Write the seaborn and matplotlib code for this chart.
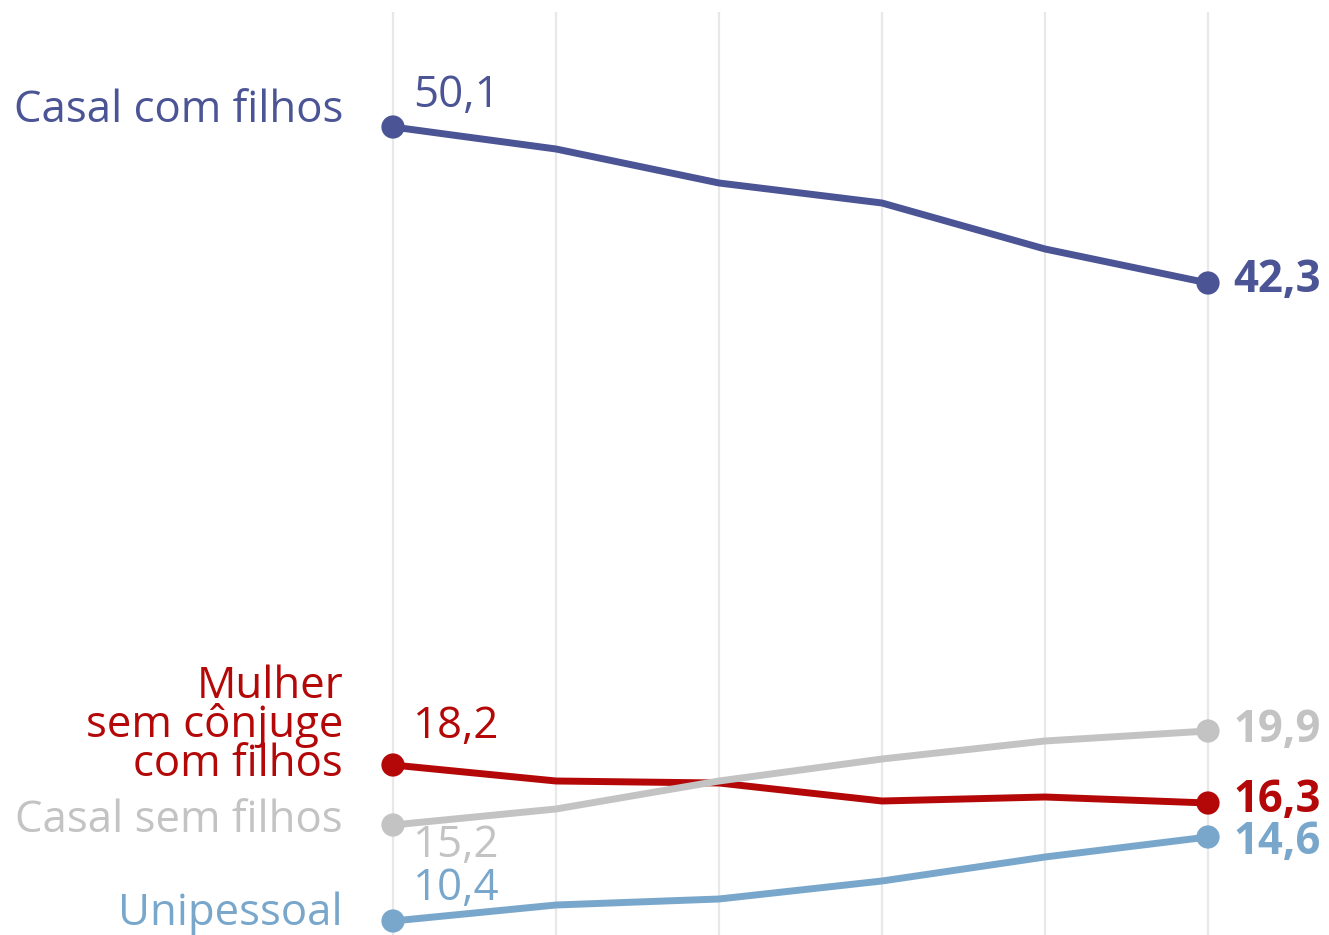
import matplotlib
matplotlib.use("Agg")
import matplotlib.pyplot as plt
import seaborn as sns
import pandas as pd

# ---- data ----
periodos = [0, 1, 2, 3, 4, 5]
casal_com_filhos = [50.1, 49.0, 47.3, 46.3, 44.0, 42.3]
mulher_sem_conjuge = [18.2, 17.4, 17.3, 16.4, 16.6, 16.3]
casal_sem_filhos = [15.2, 16.0, 17.4, 18.5, 19.4, 19.9]
unipessoal = [10.4, 11.2, 11.5, 12.4, 13.6, 14.6]

series_names = ["Casal com filhos", "Mulher\nsem cônjuge\ncom filhos",
                "Casal sem filhos", "Unipessoal"]
series_values = [casal_com_filhos, mulher_sem_conjuge, casal_sem_filhos, unipessoal]
colors = ["#4b5495", "#b40808", "#c3c3c3", "#79a7cb"]

rows = []
for name, vals in zip(series_names, series_values):
    for p, v in zip(periodos, vals):
        rows.append({"periodo": p, "valor": v, "serie": name})
df = pd.DataFrame(rows)

sns.set_style("white")
plt.rcParams["font.family"] = ["Open Sans", "DejaVu Sans"]

W, H = 1329, 935
fig = plt.figure(figsize=(W / 100, H / 100), dpi=100)
ax = fig.add_axes([0, 0, 1, (H - 12) / H])

# pixel mapping: x index 0 -> 393 px, 163 px per step; y: 50.1 at 127 px, 20 px per unit
x0, dx = 393, 163
ax.set_xlim(-x0 / dx, (W - x0) / dx)
ax.set_ylim(50.1 - (H - 127) / 20, 50.1 + (127 - 12) / 20)

for p in periodos:
    ax.axvline(p, color="#e8e8e8", lw=1.6, zorder=0)

sns.lineplot(data=df, x="periodo", y="valor", hue="serie", hue_order=series_names,
             palette=colors, linewidth=5, legend=False, ax=ax, zorder=3)

ends = df[df["periodo"].isin([periodos[0], periodos[-1]])]
sns.scatterplot(data=ends, x="periodo", y="valor", hue="serie", hue_order=series_names,
                palette=colors, s=280, linewidth=0, legend=False, ax=ax, zorder=4,
                clip_on=False)

fs = 31.5
def fmt(v):
    return f"{v:.1f}".replace(".", ",")

# left labels (right aligned at x=343 px)
lx = (343 - x0) / dx
left_y = [111, 726, 821, 914]  # pixel centers
for name, c, py in zip(series_names, colors, left_y):
    ax.text(lx, 50.1 - (py - 127) / 20, name, color=c, fontsize=fs, ha="right",
            va="center", linespacing=0.83)

# start values
sx = (413 - x0) / dx
start_y = [96, 727, 846, 889]
for vals, c, py in zip(series_values, colors, start_y):
    ax.text(sx, 50.1 - (py - 127) / 20, fmt(vals[0]), color=c, fontsize=fs,
            ha="left", va="center")

# end values (bold)
ex = (1233 - x0) / dx
end_y = [281, 800, 730, 843]
for vals, c, py in zip(series_values, colors, end_y):
    ax.text(ex, 50.1 - (py - 127) / 20, fmt(vals[-1]), color=c, fontsize=fs,
            ha="left", va="center", fontweight="bold")

ax.set_xticks([])
ax.set_yticks([])
ax.set_xlabel("")
ax.set_ylabel("")
for s in ax.spines.values():
    s.set_visible(False)

fig.savefig("out.png", dpi=100)
